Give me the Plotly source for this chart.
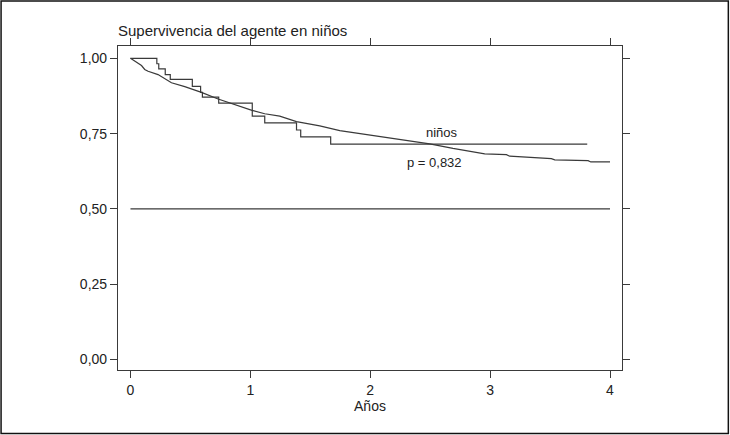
import plotly.graph_objects as go

# Large reference group (fine-stepped KM curve)
ref_t = [0, 0.05, 0.092, 0.119, 0.147, 0.23, 0.342, 0.453, 0.592, 0.731, 0.87,
         1.014, 1.12, 1.245, 1.385, 1.579, 1.746, 1.94, 2.079, 2.19, 2.35, 2.496,
         2.69, 2.872, 2.955, 3.136, 3.163, 3.511, 3.539, 3.817, 3.84, 4.0]
ref_s = [1.0, 0.987, 0.976, 0.963, 0.957, 0.946, 0.919, 0.906, 0.887, 0.865, 0.846,
         0.827, 0.816, 0.808, 0.790, 0.776, 0.760, 0.749, 0.741, 0.735, 0.725, 0.716,
         0.701, 0.688, 0.683, 0.680, 0.675, 0.667, 0.663, 0.660, 0.656, 0.656]

# Niños group (step KM curve)
ninos_t = [0, 0.22, 0.236, 0.29, 0.332, 0.516, 0.585, 0.60, 0.736, 1.016, 1.12,
           1.385, 1.42, 1.67, 3.81]
ninos_s = [1.0, 0.982, 0.965, 0.946, 0.930, 0.907, 0.887, 0.871, 0.851, 0.808, 0.786,
           0.762, 0.739, 0.715, 0.715]

# Median reference line
median_t = [0, 4]
median_s = [0.5, 0.5]

x_ticks = [0, 1, 2, 3, 4]
y_ticks = [0.0, 0.25, 0.5, 0.75, 1.0]
y_ticklabels = ["0,00", "0,25", "0,50", "0,75", "1,00"]

title_text = "Supervivencia del agente en niños"
x_title = "Años"
label_group = "niños"
label_p = "p = 0,832"

LINE = "#3a3a3a"
FONT = "Liberation Sans, Arial, sans-serif"

fig = go.Figure()
fig.add_trace(go.Scatter(x=ref_t, y=ref_s, mode="lines",
                         line=dict(color=LINE, width=1.2), hoverinfo="skip"))
fig.add_trace(go.Scatter(x=ninos_t, y=ninos_s, mode="lines", line_shape="hv",
                         line=dict(color=LINE, width=1.2), hoverinfo="skip"))
fig.add_trace(go.Scatter(x=median_t, y=median_s, mode="lines",
                         line=dict(color=LINE, width=1.2), hoverinfo="skip"))

fig.add_annotation(x=2.6, y=0.755, text=label_group, showarrow=False,
                   font=dict(size=13, color="#222"))
fig.add_annotation(x=2.54, y=0.654, text=label_p, showarrow=False,
                   font=dict(size=13, color="#222"))

# outer frame around the whole picture
fig.add_shape(type="rect", xref="paper", yref="paper",
              x0=-0.232, x1=1.211, y0=-0.196, y1=1.139,
              line=dict(color="#111", width=1.5))

fig.update_layout(
    width=730, height=435,
    margin=dict(l=118, r=108, t=46, b=65),
    paper_bgcolor="white", plot_bgcolor="white",
    showlegend=False,
    font=dict(family=FONT, size=13, color="#222"),
    title=dict(text=title_text, x=118 / 730, xanchor="left",
               y=1 - 31 / 435, yanchor="middle",
               font=dict(size=15, family=FONT, color="#222")),
)
fig.update_xaxes(range=[-0.104, 4.1], tickvals=x_ticks, ticks="outside",
                 ticklen=7, tickcolor=LINE, showline=True, linecolor=LINE,
                 linewidth=1.2, mirror="ticks", showgrid=False, zeroline=False,
                 title=dict(text=x_title, standoff=4, font=dict(size=14)),
                 tickfont=dict(size=14))
fig.update_yaxes(range=[-0.035, 1.041], tickvals=y_ticks, ticktext=y_ticklabels,
                 ticks="outside", ticklen=7, tickcolor=LINE, showline=True,
                 linecolor=LINE, linewidth=1.2, mirror="ticks", showgrid=False,
                 zeroline=False, tickfont=dict(size=14))

fig.write_html("out.html", config={"displayModeBar": False},
               post_script="document.body.style.margin='0';document.body.style.overflow='hidden';")
